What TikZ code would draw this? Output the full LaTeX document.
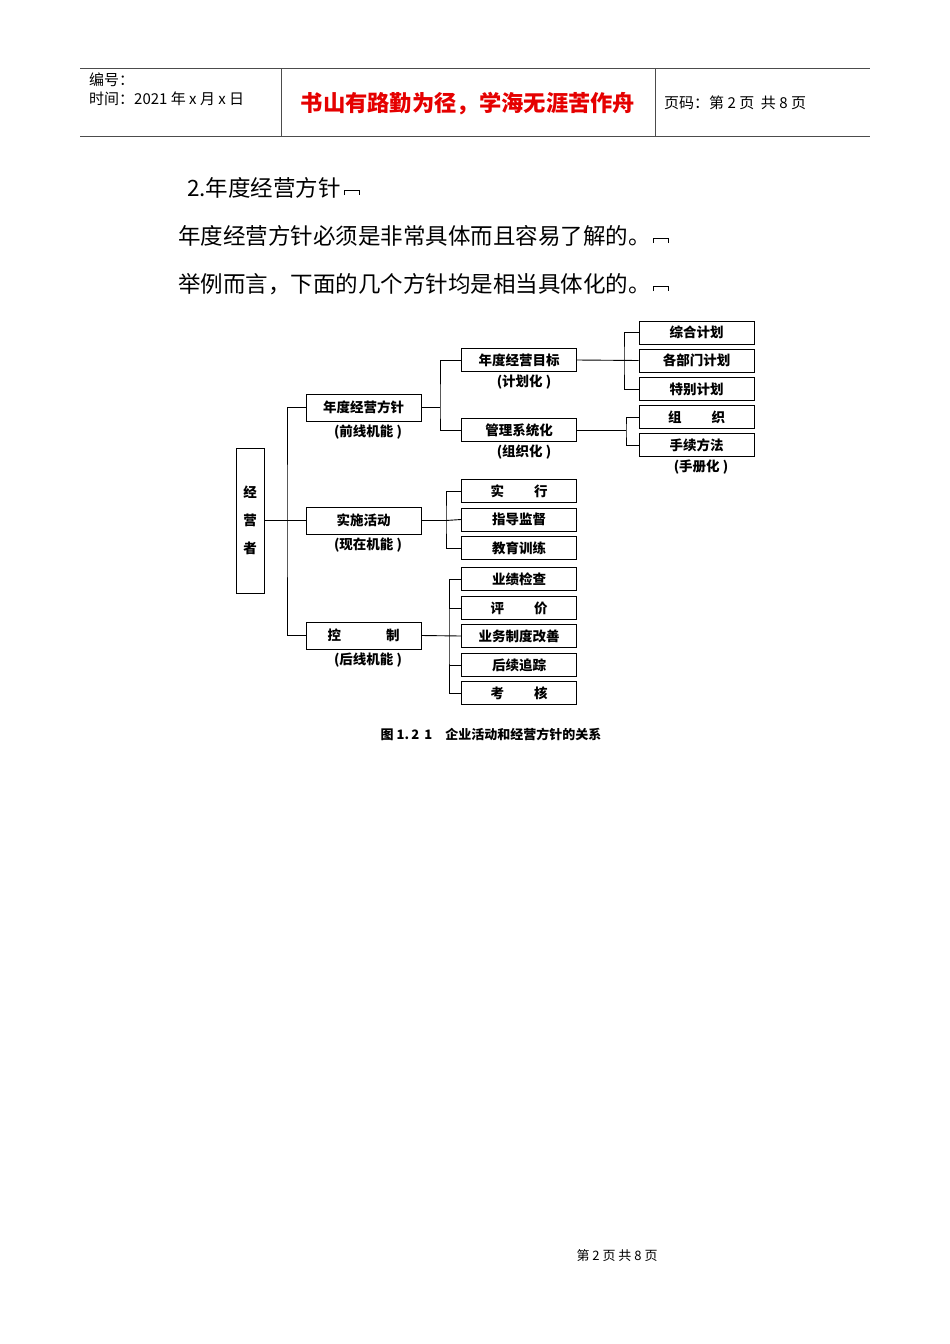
\documentclass[tikz,border=0pt]{standalone}
\usepackage{fontspec}
\setmainfont{Liberation Serif}
\newfontfamily\cjk{Noto Sans CJK SC}
\begin{document}
\begin{tikzpicture}[x=1pt,y=-1pt,
  bx/.style={draw,thick,minimum width=115pt,minimum height=23pt,inner sep=0pt,font=\cjk\fontsize{13.5}{15}\selectfont\bfseries},
  lbl/.style={font=\cjk\fontsize{13.5}{15}\selectfont\bfseries,inner sep=0pt},
  ln/.style={line width=0.9pt},
  mk/.style={line width=1pt}]
\useasboundingbox (0,0) rectangle (950,1344);
% header
\draw[line width=0.8pt,gray!60!black] (80,68) -- (870,68) (80,136) -- (870,136);
\draw[line width=0.8pt,gray!60!black] (281,68) -- (281,136) (655,68) -- (655,136);
\node[anchor=west,inner sep=0,font=\cjk\fontsize{15}{17}\selectfont] (h1) at (89,80) {编号：};
\node[anchor=west,inner sep=0,font=\cjk\fontsize{15}{17}\selectfont] (h2) at (89,99) {时间：2021 年 x 月 x 日};
\node[inner sep=0,text=red!90!black,font=\cjk\fontsize{22.3}{24}\selectfont\bfseries] (h3) at (468,104) {书山有路勤为径，学海无涯苦作舟};
\node[anchor=west,inner sep=0,font=\cjk\fontsize{15}{17}\selectfont] (h4) at (664,103) {页码：第 2 页\ \ 共 8 页};
% body
\node[anchor=west,inner sep=0,font=\cjk\fontsize{22.5}{24}\selectfont] (t1) at (187,188) {2.年度经营方针};
\node[anchor=west,inner sep=0,font=\cjk\fontsize{22.5}{24}\selectfont] (t2) at (178,236) {年度经营方针必须是非常具体而且容易了解的。};
\node[anchor=west,inner sep=0,font=\cjk\fontsize{22.5}{24}\selectfont] (t3) at (178,284) {举例而言，下面的几个方针均是相当具体化的。};
\foreach \t in {t1,t2,t3}{
  \draw[mk] ([xshift=3pt,yshift=-7pt]\t.east) -- ++(0,-5) -- ++(15,0) -- ++(0,5);}
% diagram
\node[draw,thick,minimum width=28pt,minimum height=145pt,inner sep=0pt,font=\cjk\fontsize{13.5}{15}\selectfont\bfseries,align=center] (jy) at (250,520.5) {经\\[13pt]营\\[13pt]者};
\node[bx,minimum height=27pt] (a) at (363.5,407.5) {年度经营方针};
\node[lbl] (al) at (368,432) {(前线机能 )};
\node[bx,minimum height=27pt] (b) at (363.5,520.5) {实施活动};
\node[lbl] (bl) at (368,545) {(现在机能 )};
\node[bx,minimum height=27pt] (c) at (363.5,635.5) {控\hspace{45pt}制};
\node[lbl] (cl) at (368,660) {(后线机能 )};
\node[bx] (a1) at (519,360) {年度经营目标};
\node[lbl] (a1l) at (524,382) {(计划化 )};
\node[bx] (a2) at (519,430) {管理系统化};
\node[lbl] (a2l) at (524,452) {(组织化 )};
\node[bx] (b1) at (519,491) {实\hspace{30pt}行};
\node[bx] (b2) at (519,519.5) {指导监督};
\node[bx] (b3) at (519,548) {教育训练};
\node[bx] (c1) at (519,579) {业绩检查};
\node[bx] (c2) at (519,608) {评\hspace{30pt}价};
\node[bx] (c3) at (519,636) {业务制度改善};
\node[bx] (c4) at (519,665) {后续追踪};
\node[bx] (c5) at (519,693) {考\hspace{30pt}核};
\node[bx] (d1) at (696.5,332.5) {综合计划};
\node[bx] (d2) at (696.5,360.5) {各部门计划};
\node[bx] (d3) at (696.5,389) {特别计划};
\node[bx] (d4) at (696.5,417) {组\hspace{30pt}织};
\node[bx] (d5) at (696.5,445) {手续方法};
\node[lbl] (d5l) at (701,467) {(手册化 )};
% connectors
\draw[ln] (jy.east) -- (287,520.5);
\draw[ln] (a.west) -| (287,520.5) |- (c.west);
\draw[ln] (b.west) -- (287,520.5);
\draw[ln] (a.east) -- (440,407.5);
\draw[ln] (a1.west) -| (440,407.5) |- (a2.west);
\draw[ln] (b.east) -- (446,520.5) -- (b2.west);
\draw[ln] (b1.west) -| (446,519.5) |- (b3.west);
\draw[ln] (c.east) -- (c3.west);
\draw[ln] (c1.west) -| (449,636) |- (c5.west);
\draw[ln] (c2.west) -- (449,608);
\draw[ln] (c4.west) -- (449,665);
\draw[ln] (a1.east) -- (d2.west);
\draw[ln] (d1.west) -| (624,360.5) |- (d3.west);
\draw[ln] (a2.east) -- (626,430);
\draw[ln] (d4.west) -| (626,430) |- (d5.west);
\node[inner sep=0,font=\cjk\fontsize{13}{15}\selectfont\bfseries] (cap) at (491,734) {图 1.\,2\ \,1\quad 企业活动和经营方针的关系};
\node[inner sep=0,font=\cjk\fontsize{13}{15}\selectfont] (ft) at (617,1256) {第\ 2\ 页\ 共\ 8\ 页};
\end{tikzpicture}
\end{document}
